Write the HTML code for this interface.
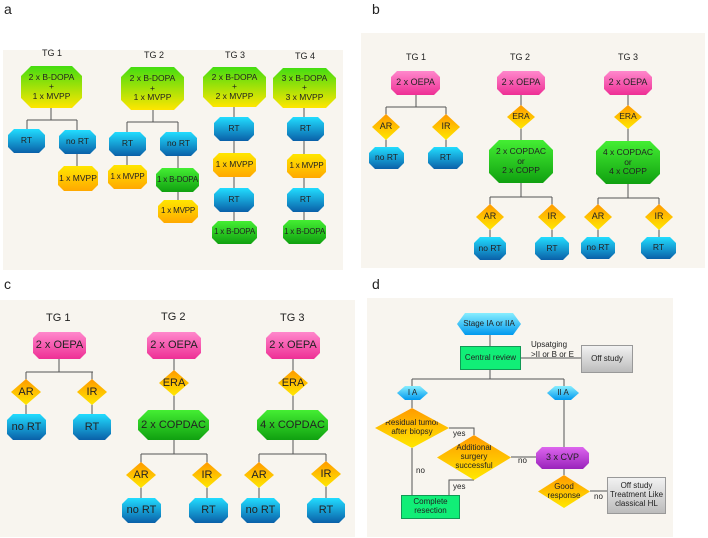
<!DOCTYPE html>
<html><head><style>
body{margin:0;width:708px;height:538px;background:#fff;position:relative;overflow:hidden;font-family:"Liberation Sans",sans-serif}
.bg{position:absolute;background:#f8f5ef}
.n{position:absolute;display:flex;align-items:center;justify-content:center;text-align:center;font-size:8.5px;line-height:1.1;color:#222;white-space:nowrap}
.o{clip-path:polygon(6px 0,calc(100% - 6px) 0,100% 6px,100% calc(100% - 6px),calc(100% - 6px) 100%,6px 100%,0 calc(100% - 6px),0 6px)}
.oL{clip-path:polygon(10px 0,calc(100% - 10px) 0,100% 10px,100% calc(100% - 10px),calc(100% - 10px) 100%,10px 100%,0 calc(100% - 10px),0 10px)}
.d{clip-path:polygon(50% 0,100% 50%,50% 100%,0 50%);background:linear-gradient(#ff9a00,#ffe800)}
.hx{clip-path:polygon(8px 0,calc(100% - 8px) 0,100% 50%,calc(100% - 8px) 100%,8px 100%,0 50%);background:linear-gradient(#88eeff,#0099ee)}
.cy{background:linear-gradient(#22ddff,#0a60a8)}
.gy{background:linear-gradient(#44dd11,#ffe600)}
.yo{background:linear-gradient(#ffe600,#ffa800)}
.gr{background:linear-gradient(#44ee33,#10a010)}
.pk{background:linear-gradient(#ff88cc,#ee2f95)}
.t{position:absolute;font-size:9px;color:#222;white-space:nowrap}
.L{position:absolute;font-size:14px;color:#222}
.c12{font-size:11px}
.b9{font-size:9px}
.rg{background:#11ee77;border:1px solid #119955;box-sizing:border-box}
.gray{background:linear-gradient(#f2f2f2,#bcbcbc);border:1px solid #999;box-sizing:border-box}
.pu{background:linear-gradient(#dd66ee,#9922bb)}
.s{font-size:8px}
.k{font-size:8px;letter-spacing:-0.2px}
</style></head><body>
<div class="L" style="left:4px;top:1px">a</div>
<div class="L" style="left:372px;top:1px">b</div>
<div class="L" style="left:4px;top:276px">c</div>
<div class="L" style="left:372px;top:276px">d</div>
<div class="bg" style="left:3px;top:50px;width:340px;height:220px"></div>
<div class="bg" style="left:361px;top:33px;width:344px;height:235px"></div>
<div class="bg" style="left:0px;top:300px;width:355px;height:237px"></div>
<div class="bg" style="left:367px;top:298px;width:306px;height:239px"></div>

<svg style="position:absolute;left:0;top:0" width="708" height="538"><g fill="none" stroke="#555" stroke-width="1">
<path d="M51 108V120M27 120H77M27 120V130M77 120V166M153 110V122M127 122H178M127 122V165M178 122V200M234 107V221M304 108V220"/>
<path d="M416 95V107M386 107H446M386 107V147M446 107V147M521 95V197M490 197H552M490 197V237M552 197V237M628 95V198M598 198H659M598 198V237M659 198V237"/>
<path d="M59 359V372M26 372H93M26 372V414M92 372V414M174 359V454M141 454H207M141 454V498M207 454V498M293 359V454M259 454H326M259 454V498M326 454V498"/>
<path d="M490 335V379M521 358H581M412 379H564M412 379V408M564 379V447M449 428H474V435M511 457H536M564 469V475M590 491H607M412 448V495M474 480H449V495"/>
</g></svg>

<!-- panel a -->
<div class="t" style="left:42px;top:48px">TG 1</div>
<div class="t" style="left:144px;top:50px">TG 2</div>
<div class="t" style="left:225px;top:50px">TG 3</div>
<div class="t" style="left:295px;top:51px">TG 4</div>
<div class="n oL gy" style="left:21px;top:66px;width:61px;height:42px">2 x B-DOPA<br>+<br>1 x MVPP</div>
<div class="n oL gy" style="left:121px;top:67px;width:63px;height:43px">2 x B-DOPA<br>+<br>1 x MVPP</div>
<div class="n oL gy" style="left:203px;top:67px;width:63px;height:40px">2 x B-DOPA<br>+<br>2 x MVPP</div>
<div class="n oL gy" style="left:273px;top:68px;width:63px;height:40px">3 x B-DOPA<br>+<br>3 x MVPP</div>
<div class="n o cy" style="left:8px;top:129px;width:37px;height:24px">RT</div>
<div class="n o cy" style="left:59px;top:130px;width:37px;height:24px">no RT</div>
<div class="n o yo" style="left:58px;top:166px;width:40px;height:25px">1 x MVPP</div>
<div class="n o cy" style="left:109px;top:132px;width:37px;height:24px">RT</div>
<div class="n o cy" style="left:160px;top:132px;width:37px;height:24px">no RT</div>
<div class="n o yo k" style="left:108px;top:165px;width:39px;height:24px">1 x MVPP</div>
<div class="n o gr k" style="left:156px;top:168px;width:43px;height:24px">1 x B-DOPA</div>
<div class="n o yo k" style="left:158px;top:200px;width:40px;height:23px">1 x MVPP</div>
<div class="n o cy" style="left:214px;top:117px;width:40px;height:24px">RT</div>
<div class="n o yo" style="left:213px;top:153px;width:43px;height:24px">1 x MVPP</div>
<div class="n o cy" style="left:214px;top:188px;width:40px;height:24px">RT</div>
<div class="n o gr k" style="left:212px;top:221px;width:45px;height:23px">1 x B-DOPA</div>
<div class="n o cy" style="left:287px;top:117px;width:37px;height:24px">RT</div>
<div class="n o yo k" style="left:287px;top:154px;width:39px;height:24px">1 x MVPP</div>
<div class="n o cy" style="left:287px;top:188px;width:37px;height:24px">RT</div>
<div class="n o gr k" style="left:283px;top:220px;width:43px;height:24px">1 x B-DOPA</div>

<!-- panel b -->
<div class="t" style="left:406px;top:52px">TG 1</div>
<div class="t" style="left:510px;top:52px">TG 2</div>
<div class="t" style="left:618px;top:52px">TG 3</div>
<div class="n o pk b9" style="left:391px;top:71px;width:49px;height:24px">2 x OEPA</div>
<div class="n o pk b9" style="left:497px;top:71px;width:48px;height:24px">2 x OEPA</div>
<div class="n o pk b9" style="left:604px;top:71px;width:48px;height:24px">2 x OEPA</div>
<div class="n d b9" style="left:372px;top:114px;width:28px;height:26px">AR</div>
<div class="n d b9" style="left:432px;top:114px;width:28px;height:26px">IR</div>
<div class="n o cy" style="left:369px;top:147px;width:35px;height:22px">no RT</div>
<div class="n o cy" style="left:428px;top:147px;width:35px;height:22px">RT</div>
<div class="n d" style="left:507px;top:105px;width:28px;height:24px">ERA</div>
<div class="n d" style="left:614px;top:105px;width:28px;height:24px">ERA</div>
<div class="n oL gr" style="left:489px;top:140px;width:64px;height:43px">2 x COPDAC<br>or<br>2 x COPP</div>
<div class="n oL gr" style="left:596px;top:141px;width:64px;height:43px">4 x COPDAC<br>or<br>4 x COPP</div>
<div class="n d b9" style="left:476px;top:204px;width:28px;height:26px">AR</div>
<div class="n d b9" style="left:538px;top:204px;width:28px;height:26px">IR</div>
<div class="n o cy" style="left:474px;top:237px;width:32px;height:23px">no RT</div>
<div class="n o cy" style="left:535px;top:237px;width:34px;height:23px">RT</div>
<div class="n d b9" style="left:584px;top:204px;width:28px;height:26px">AR</div>
<div class="n d b9" style="left:645px;top:204px;width:28px;height:26px">IR</div>
<div class="n o cy" style="left:581px;top:237px;width:34px;height:22px">no RT</div>
<div class="n o cy" style="left:641px;top:237px;width:35px;height:22px">RT</div>

<!-- panel c -->
<div class="t c12" style="left:46px;top:312px">TG 1</div>
<div class="t c12" style="left:161px;top:311px">TG 2</div>
<div class="t c12" style="left:280px;top:312px">TG 3</div>
<div class="n o pk c12" style="left:33px;top:332px;width:53px;height:27px">2 x OEPA</div>
<div class="n o pk c12" style="left:147px;top:332px;width:54px;height:27px">2 x OEPA</div>
<div class="n o pk c12" style="left:266px;top:332px;width:54px;height:27px">2 x OEPA</div>
<div class="n d c12" style="left:11px;top:379px;width:30px;height:26px">AR</div>
<div class="n d c12" style="left:77px;top:379px;width:30px;height:26px">IR</div>
<div class="n o cy c12" style="left:7px;top:414px;width:39px;height:26px">no RT</div>
<div class="n o cy c12" style="left:73px;top:414px;width:38px;height:26px">RT</div>
<div class="n d c12" style="left:159px;top:370px;width:30px;height:26px">ERA</div>
<div class="n d c12" style="left:278px;top:370px;width:30px;height:26px">ERA</div>
<div class="n oL gr c12" style="left:138px;top:410px;width:71px;height:30px">2 x COPDAC</div>
<div class="n oL gr c12" style="left:257px;top:410px;width:71px;height:30px">4 x COPDAC</div>
<div class="n d c12" style="left:126px;top:462px;width:30px;height:26px">AR</div>
<div class="n d c12" style="left:192px;top:462px;width:30px;height:26px">IR</div>
<div class="n o cy c12" style="left:122px;top:498px;width:39px;height:25px">no RT</div>
<div class="n o cy c12" style="left:189px;top:498px;width:39px;height:25px">RT</div>
<div class="n d c12" style="left:244px;top:462px;width:30px;height:26px">AR</div>
<div class="n d c12" style="left:311px;top:461px;width:30px;height:26px">IR</div>
<div class="n o cy c12" style="left:241px;top:498px;width:39px;height:25px">no RT</div>
<div class="n o cy c12" style="left:307px;top:498px;width:38px;height:25px">RT</div>

<!-- panel d -->
<div class="n hx s" style="left:457px;top:313px;width:64px;height:22px">Stage IA or IIA</div>
<div class="n rg s" style="left:460px;top:346px;width:61px;height:24px">Central review</div>
<div class="t s" style="left:531px;top:340px;line-height:10px">Upsatging<br>&gt;II or B or E</div>
<div class="n gray s" style="left:581px;top:345px;width:52px;height:28px">Off study</div>
<div class="n hx s" style="left:397px;top:386px;width:31px;height:14px">I A</div>
<div class="n hx s" style="left:547px;top:386px;width:32px;height:14px">II A</div>
<div class="n d s" style="left:375px;top:408px;width:74px;height:40px">Residual tumor<br>after biopsy</div>
<div class="t s" style="left:453px;top:429px">yes</div>
<div class="n d s" style="left:437px;top:435px;width:74px;height:45px">Additional<br>surgery<br>successful</div>
<div class="t s" style="left:518px;top:456px">no</div>
<div class="n o pu b9" style="left:536px;top:447px;width:53px;height:22px">3 x CVP</div>
<div class="n d s" style="left:538px;top:475px;width:52px;height:33px">Good<br>response</div>
<div class="t s" style="left:594px;top:492px">no</div>
<div class="n gray s" style="left:607px;top:477px;width:59px;height:37px">Off study<br>Treatment Like<br>classical HL</div>
<div class="t s" style="left:416px;top:466px">no</div>
<div class="t s" style="left:453px;top:482px">yes</div>
<div class="n rg s" style="left:401px;top:495px;width:59px;height:24px">Complete<br>resection</div>
</body></html>
